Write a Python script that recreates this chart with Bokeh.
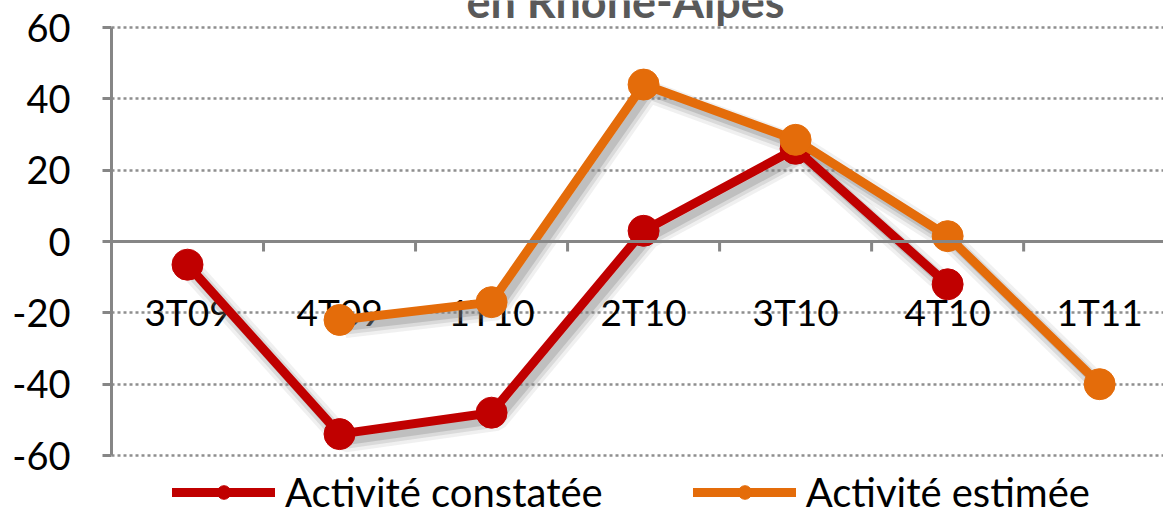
import numpy as np
from bokeh.plotting import figure
from bokeh.models import (FixedTicker, Span, Legend, LegendItem, Label,
                          Range1d, GlobalInlineStyleSheet, NumeralTickFormatter)
from bokeh.core.properties import value
from bokeh.embed import file_html
from bokeh.resources import INLINE

nan = float("nan")

# ---- data ----
categories = ["3T09", "4T09", "1T10", "2T10", "3T10", "4T10", "1T11"]
constatee = [-6.5, -54, -48, 3, 26, -12, nan]
estimee = [nan, -22, -17, 44, 28.5, 1.5, -40]
y_ticks = [-60, -40, -20, 0, 20, 40, 60]
series_names = ["Activité constatée", "Activité estimée"]
title_text = "en Rhône-Alpes"

RED = "#C00000"
ORANGE = "#E46C0A"
GREY = "#868686"
FONT = "Lato"

W, H = 1163, 516
PLOT_TOP, PLOT_BOTTOM = 27, 455          # pixel rows of 60 and -60
k = (PLOT_BOTTOM - PLOT_TOP) / (y_ticks[-1] - y_ticks[0])   # px per unit
y_lo = y_ticks[0] - (H - PLOT_BOTTOM) / k
y_hi = y_ticks[-1] + PLOT_TOP / k

idx = np.arange(len(categories), dtype=float)

p = figure(width=W, height=H, output_backend="svg", toolbar_location=None,
           x_range=Range1d(-0.5, 6.42), y_range=Range1d(y_lo, y_hi),
           min_border_left=111, min_border_right=0, min_border_top=0,
           min_border_bottom=0)
p.stylesheets = [GlobalInlineStyleSheet(css="body{margin:0 !important;}")]
p.outline_line_color = None
p.background_fill_color = "white"
p.border_fill_color = "white"
p.xaxis.visible = False
p.xgrid.visible = False

# y axis
p.yaxis.ticker = FixedTicker(ticks=y_ticks)
p.yaxis.bounds = (y_ticks[0], y_ticks[-1])
p.yaxis.formatter = NumeralTickFormatter(format="0")
p.yaxis.axis_line_color = GREY
p.yaxis.axis_line_width = 3
p.yaxis.major_tick_line_color = GREY
p.yaxis.major_tick_line_width = 3
p.yaxis.major_tick_out = 9
p.yaxis.major_tick_in = 0
p.yaxis.minor_tick_line_color = None
p.yaxis.major_label_text_font = FONT
p.yaxis.major_label_text_font_size = "38px"
p.yaxis.major_label_text_color = "black"
p.yaxis.major_label_standoff = 32

p.ygrid.ticker = FixedTicker(ticks=y_ticks)
p.ygrid.grid_line_color = "#8f8f8f"
p.ygrid.grid_line_width = 2.5
p.ygrid.grid_line_dash = "3 3"

# zero axis line with category boundary ticks
p.add_layout(Span(location=0, dimension="width", line_color=GREY, line_width=3))
bounds = np.arange(len(categories) + 1) - 0.5
p.segment(x0=bounds, y0=np.zeros_like(bounds), x1=bounds, y1=np.full_like(bounds, -2.8),
          line_color=GREY, line_width=3)

# category labels
p.text(x=idx, y=np.full_like(idx, -19.6), text=categories, text_font=value(FONT),
       text_font_size="37px", text_align="center", text_baseline="middle",
       text_color="black")

# shadows
dx, dy = 0.035, 2.0
for ys in (constatee, estimee):
    ya = np.array(ys, dtype=float)
    p.line(idx + dx, ya - dy, line_color="#808080", line_alpha=0.12, line_width=22)
    p.line(idx + dx, ya - dy, line_color="#808080", line_alpha=0.2, line_width=15)
    p.line(idx + dx, ya - dy, line_color="#808080", line_alpha=0.3, line_width=8)

items = []
for ys, col, name in ((constatee, RED, series_names[0]), (estimee, ORANGE, series_names[1])):
    ya = np.array(ys, dtype=float)
    rl = p.line(idx, ya, line_color=col, line_width=9, line_cap="round")
    rs = p.scatter(idx, ya, size=31, fill_color=col, line_color=col)
    items.append(LegendItem(label=name, renderers=[rl, rs]))

legend = Legend(items=items, location=(61, 0), orientation="horizontal",
                glyph_width=103, glyph_height=34, label_standoff=10, spacing=90,
                padding=0, margin=0, border_line_color=None, background_fill_alpha=0,
                label_text_font=FONT, label_text_font_size="40px", label_text_color="black")
p.add_layout(legend, "center")

p.add_layout(Label(x=514, y=H, x_units="screen", y_units="screen", text=title_text,
                   text_align="center", text_baseline="alphabetic", text_font=FONT,
                   text_font_style="bold", text_font_size="45px", text_color="#595959"))

open("out.html", "w").write(file_html(p, INLINE))
